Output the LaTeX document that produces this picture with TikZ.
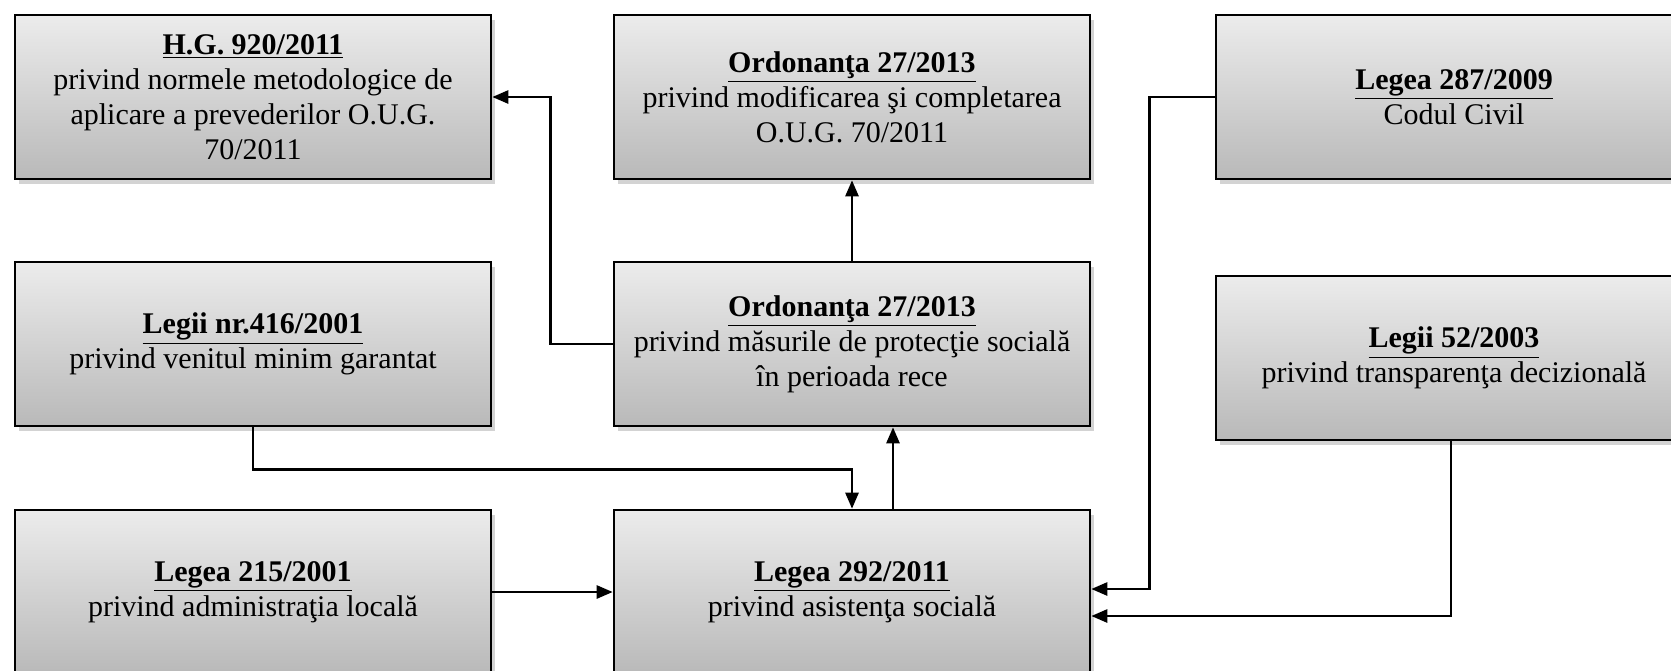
\documentclass[tikz,border=0pt]{standalone}
\usepackage{fontspec}
\setmainfont{Liberation Serif}
\usetikzlibrary{arrows.meta,shadows,calc}
\tikzset{
  lawbox/.style={draw=black, line width=1.3pt, rectangle,
    minimum width=238pt, minimum height=82pt, inner sep=2pt,
    top color=gray!15, bottom color=gray!55,
    drop shadow={shadow xshift=2pt, shadow yshift=-2.5pt, opacity=.35},
    align=center, font=\fontsize{15}{17.5}\selectfont},
  conn/.style={line width=1.3pt, draw=black},
  arr/.style={conn, -{Triangle[length=8pt,width=6.5pt]}}
}
\newcommand{\ttl}[1]{\underline{\textbf{#1}}}
\begin{document}
\begin{tikzpicture}[x=0.5pt,y=-0.5pt]
\useasboundingbox (0,0) rectangle (1671,670);
\node[lawbox] (hg) at (253,97) {\ttl{H.G. 920/2011}\\privind normele metodologice de\\aplicare a prevederilor O.U.G.\\70/2011};
\node[lawbox] (ordtop) at (852,97) {\ttl{Ordonanţa 27/2013}\\privind modificarea şi completarea\\O.U.G. 70/2011};
\node[lawbox] (l287) at (1454,97) {\ttl{Legea 287/2009}\\Codul Civil};
\node[lawbox] (l416) at (253,344) {\ttl{Legii nr.416/2001}\\privind venitul minim garantat};
\node[lawbox] (ordmid) at (852,344) {\ttl{Ordonanţa 27/2013}\\privind măsurile de protecţie socială\\în perioada rece};
\node[lawbox] (l52) at (1454,358) {\ttl{Legii 52/2003}\\privind transparenţa decizională};
\node[lawbox] (l215) at (253,592) {\ttl{Legea 215/2001}\\privind administraţia locală};
\node[lawbox] (l292) at (852,592) {\ttl{Legea 292/2011}\\privind asistenţa socială};

\draw[arr] (ordmid.west) -- ++(-62,0) |- (hg.east);
\draw[arr] (ordmid.north) -- (ordtop.south);
\draw[arr] (l416.south) -- ++(0,42) -| (l292.north);
\draw[arr] ($(l292.north)+(41,0)$) -- ($(ordmid.south)+(41,0)$);
\draw[arr] (l215.east) -- (l292.west);
\draw[arr] (l287.west) -- ++(-65,0) |- ($(l292.east)+(0,-3)$);
\draw[arr] ($(l52.south)+(-3,0)$) |- ($(l292.east)+(0,24)$);
\end{tikzpicture}
\end{document}
